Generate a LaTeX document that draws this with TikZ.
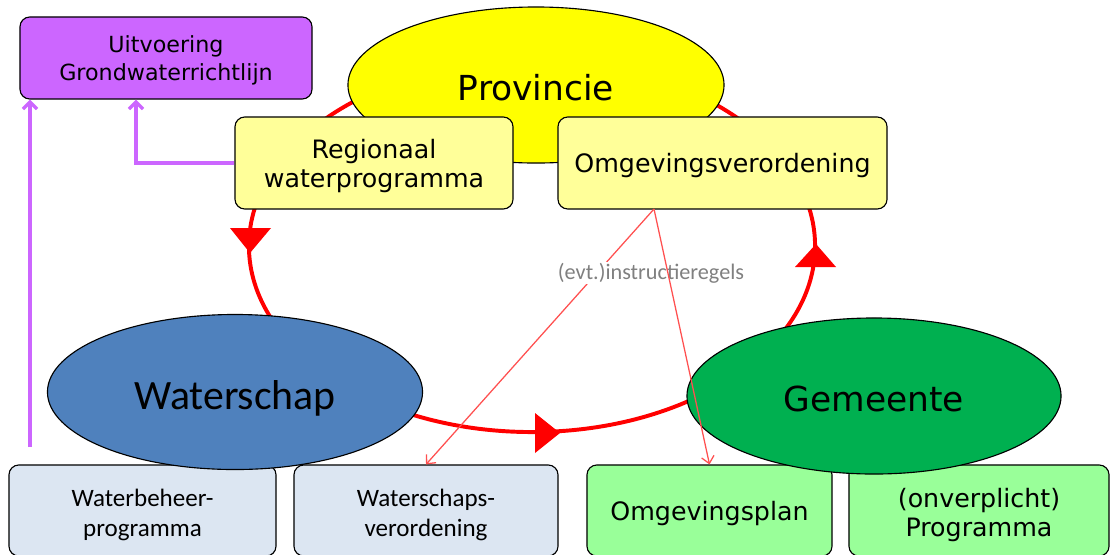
\documentclass[tikz,border=0pt]{standalone}
\usepackage{fontspec}
\setmainfont{DejaVu Sans}
\newfontfamily\calib{Carlito}
\usetikzlibrary{shapes.geometric,arrows.meta}
\definecolor{cPurple}{HTML}{CC66FF}
\definecolor{cYellow}{HTML}{FFFF00}
\definecolor{cLYellow}{HTML}{FFFF99}
\definecolor{cBlue}{HTML}{4F81BD}
\definecolor{cGreen}{HTML}{00B050}
\definecolor{cLBlue}{HTML}{DCE6F2}
\definecolor{cLGreen}{HTML}{99FF99}
\definecolor{cThin}{HTML}{FF5050}
\definecolor{cGrey}{HTML}{808080}
\begin{document}
\begin{tikzpicture}[x=0.025cm,y=-0.025cm,
  box/.style={draw=black, line width=0.8pt, rounded corners=7pt, inner sep=0pt},
  oval/.style={ellipse, draw=black, line width=0.8pt, inner sep=0pt},
  txt/.style={inner sep=0pt, align=center},
  midtext/.style={txt, font=\fontsize{18}{21.3}\selectfont},
  caltext/.style={txt, font=\calib\fontsize{17.8}{21.3}\selectfont},
  bigtext/.style={txt, font=\fontsize{24.5}{29}\selectfont},
  plink/.style={draw=cPurple, line width=2.4pt, -{Straight Barb[length=5pt,width=10pt]}},
  rlink/.style={draw=cThin, line width=0.9pt, -{Straight Barb[length=5pt,width=9pt]}},
  cycleline/.style={draw=red, line width=2.8pt},
  tri/.style={fill=red}
]
\useasboundingbox (0,0) rectangle (1112,554);
\clip (0,0) rectangle (1112,554);

% red cycle
\draw[cycleline] (532,246) ellipse [x radius=7.075cm, y radius=4.65cm];
\fill[tri] (230,228) -- (271,228) -- (250,253) -- cycle;
\fill[tri] (535,413) -- (535,453) -- (560,433) -- cycle;
\fill[tri] (816,244) -- (795,267) -- (836,267) -- cycle;

% Provincie
\node[oval, fill=cYellow, minimum width=9.4cm, minimum height=3.9cm] (prov) at (536,85) {};
\node[bigtext] (provt) at (536,88) {Provincie};
\node[box, fill=cLYellow, minimum width=6.95cm, minimum height=2.3cm] (reg) at (374,163) {};
\node[midtext] (regt) at (374,166) {Regionaal\\waterprogramma};
\node[box, fill=cLYellow, minimum width=8.225cm, minimum height=2.3cm] (ov) at (722.5,163) {};
\node[midtext] (ovt) at (722.5,166) {Omgevingsverordening};

% Uitvoering
\node[box, fill=cPurple, minimum width=7.3cm, minimum height=2.05cm] (gw) at (166,58) {};
\node[txt, font=\fontsize{15.8}{19.9}\selectfont] (gwt) at (166,60) {Uitvoering\\Grondwaterrichtlijn};

% bottom boxes
\node[box, fill=cLBlue, minimum width=6.675cm, minimum height=2.275cm] (wbp) at (142.5,510.5) {};
\node[caltext] (wbpt) at (142.5,515) {Waterbeheer-\\programma};
\node[box, fill=cLBlue, minimum width=6.6cm, minimum height=2.275cm] (wsv) at (426,510.5) {};
\node[caltext] (wsvt) at (426,515) {Waterschaps-\\verordening};
\node[box, fill=cLGreen, minimum width=6.125cm, minimum height=2.275cm] (op) at (709.5,510.5) {};
\node[midtext] (opt) at (709.5,514) {Omgevingsplan};
\node[box, fill=cLGreen, minimum width=6.5cm, minimum height=2.275cm] (prog) at (979,510.5) {};
\node[midtext] (progt) at (979,515) {(onverplicht)\\Programma};

% ellipses
\node[oval, fill=cBlue, minimum width=9.375cm, minimum height=3.875cm] (ws) at (235,392) {};
\node[txt, font=\calib\fontsize{29.7}{34}\selectfont] (wst) at (235,398) {Waterschap};
\node[oval, fill=cGreen, minimum width=9.35cm, minimum height=3.9cm] (gem) at (874,396) {};
\node[bigtext] (gemt) at (874,399) {Gemeente};

% purple connectors
\coordinate (pstart) at (30,447);
\draw[plink] (pstart) -- (pstart |- gw.south);
\draw[plink] (reg.west) -| ([xshift=-0.75cm]gw.south);

% instructieregels
\coordinate (ovs) at (654,209);
\draw[rlink] (ovs) -- (wsv.north);
\node[fill=white, inner sep=1pt, text=cGrey, font=\calib\fontsize{15.8}{19}\selectfont] (lbl) at (651,273) {(evt.)instructieregels};
\draw[rlink] (ovs) -- (op.north);
\end{tikzpicture}
\end{document}
